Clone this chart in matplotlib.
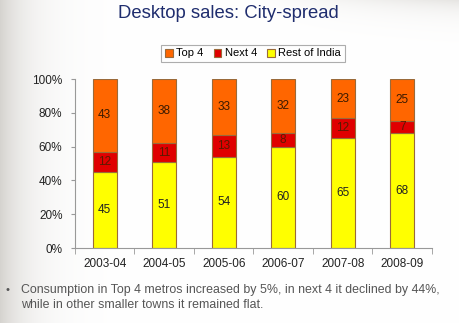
import numpy as np
import matplotlib
matplotlib.use("Agg")
import matplotlib.pyplot as plt

plt.rcParams['font.family'] = ['Liberation Sans', 'DejaVu Sans']

years = ['2003-04', '2004-05', '2005-06', '2006-07', '2007-08', '2008-09']
rest_of_india = [45, 51, 54, 60, 65, 68]
next_4 = [12, 11, 13, 8, 12, 7]
top_4 = [43, 38, 33, 32, 23, 25]

c_top = '#FF6600'
c_next = '#E00000'
c_rest = '#FFFF00'
edge = '#9A6A3A'

fig = plt.figure(figsize=(4.6, 3.23), dpi=100)

# slide background: beige fade at left, soft shadow top right
bg = fig.add_axes([0, 0, 1, 1], zorder=-10)
xs = np.linspace(0, 1, 460)
ys = np.linspace(0, 1, 323)
X, Y = np.meshgrid(xs, ys)
shade = 0.17 * np.exp(-X / 0.06) + 0.10 * np.exp(-Y / 0.04) * np.clip((X - 0.55) / 0.45, 0, 1)
img = np.ones((323, 460, 3))
tint = np.array([0.95, 1.0, 1.1])
img = img - shade[..., None] * tint
bg.imshow(np.clip(img, 0, 1), aspect='auto', extent=[0, 1, 1, 0])
bg.set_xlim(0, 1)
bg.set_ylim(1, 0)
bg.axis('off')

ax = fig.add_axes([0.163, 0.232, 0.776, 0.523])
ax.set_facecolor('none')
x = np.arange(len(years))
w = 0.40
b1 = ax.bar(x, rest_of_india, w, color=c_rest, edgecolor=edge, linewidth=0.8, label='Rest of India')
b2 = ax.bar(x, next_4, w, bottom=rest_of_india, color=c_next, edgecolor=edge, linewidth=0.8, label='Next 4')
bot3 = [a + b for a, b in zip(rest_of_india, next_4)]
b3 = ax.bar(x, top_4, w, bottom=bot3, color=c_top, edgecolor=edge, linewidth=0.8, label='Top 4')

for i in range(len(years)):
    ax.text(x[i], rest_of_india[i] / 2, str(rest_of_india[i]), ha='center', va='center', fontsize=8.5, color='#222222')
    ax.text(x[i], rest_of_india[i] + next_4[i] / 2, str(next_4[i]), ha='center', va='center', fontsize=8.5, color='#5a1a00')
    ax.text(x[i], bot3[i] + top_4[i] / 2, str(top_4[i]), ha='center', va='center', fontsize=8.5, color='#3a1a00')

ax.set_xlim(-0.5, len(years) - 0.5)
ax.set_ylim(0, 100)
ax.set_yticks([0, 20, 40, 60, 80, 100])
ax.set_yticklabels(['0%', '20%', '40%', '60%', '80%', '100%'])
ax.set_xticks(x)
ax.set_xticklabels(years)
ax.set_xticks(np.arange(-0.5, len(years)), minor=True)
ax.tick_params(axis='x', which='major', length=0, pad=7, labelsize=8.5, labelcolor='#222222')
ax.tick_params(axis='x', which='minor', length=4, direction='out', color='#999999')
ax.tick_params(axis='y', length=3, direction='out', color='#999999', labelsize=8.5, labelcolor='#222222', pad=6)
for s in ['top', 'right']:
    ax.spines[s].set_visible(False)
for s in ['left', 'bottom']:
    ax.spines[s].set_color('#999999')
    ax.spines[s].set_linewidth(0.8)

leg = fig.legend(handles=[b3, b2, b1], labels=['Top 4', 'Next 4', 'Rest of India'],
                 loc='center', bbox_to_anchor=(253 / 460, 1 - 53.5 / 323), ncol=3,
                 fontsize=8, frameon=True, fancybox=False, handlelength=0.7, handleheight=0.7,
                 handletextpad=0.3, columnspacing=0.9, borderpad=0.35)
leg.get_frame().set_edgecolor('#999999')
leg.get_frame().set_linewidth(0.8)

fig.text(0.497, 1 - 13 / 323, 'Desktop sales: City-spread', ha='center', va='center',
         fontsize=13.3, color='#1F2D6E')

fig.text(6 / 460, 1 - 290 / 323, '•', ha='left', va='center', fontsize=8, color='#555555')
fig.text(21 / 460, 1 - 290 / 323, 'Consumption in Top 4 metros increased by 5%, in next 4 it declined by 44%,',
         ha='left', va='center', fontsize=8.9, color='#555555')
fig.text(21 / 460, 1 - 305 / 323, 'while in other smaller towns it remained flat.',
         ha='left', va='center', fontsize=8.9, color='#555555')

fig.savefig('out.png', dpi=100)
